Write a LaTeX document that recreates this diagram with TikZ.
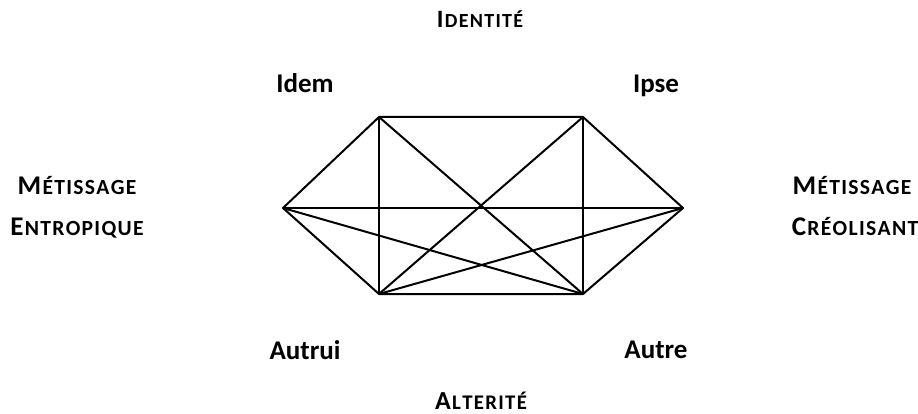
\documentclass[tikz,border=0pt]{standalone}
\usepackage{fontspec}
\setmainfont{Carlito}
\usetikzlibrary{positioning}
% petites capitales simulees (Carlito n'en a pas)
\newlength{\lettre}
\setlength{\lettre}{1.3pt}
\def\espaceloop#1{\ifx#1\relax\else#1\kern\lettre\expandafter\espaceloop\fi}
\newcommand{\espace}[1]{\espaceloop#1\relax\kern-\lettre}
\newcommand{\petcap}[3]{{\fontsize{#1}{#1}\selectfont#2}\kern\lettre{\fontsize{\fpeval{0.8*#1}}{#1}\selectfont\espace{#3}}}

\begin{document}
\begin{tikzpicture}[x=1pt, y=-1pt, line width=2pt, line join=round,
  pole/.style={font=\bfseries\fontsize{27}{32}\selectfont, anchor=base, inner sep=0pt},
  axe/.style={font=\bfseries, anchor=base, inner sep=0pt}]
\useasboundingbox (0,0) rectangle (918,414);
% sommets de l'hexagone
\coordinate (tl) at (379,117);
\coordinate (tr) at (583,117);
\coordinate (ri) at (683,208);
\coordinate (br) at (583,294);
\coordinate (bl) at (379,294);
\coordinate (le) at (283,208);
% contour
\draw (tl) -- (tr) -- (ri) -- (br) -- (bl) -- (le) -- cycle;
% cordes
\draw (tl) -- (bl);
\draw (tr) -- (br);
\draw (le) -- (ri);
\draw (tl) -- (br);
\draw (tr) -- (bl);
\draw (le) -- (br);
\draw (ri) -- (bl);
% poles
\node[pole] (idem) at (305,93) {Idem};
\node[pole] (ipse) at (656,93) {Ipse};
\node[pole] (autrui) at (305,359) {Autrui};
\node[pole] (autre) at (656,358) {Autre};
% axes
\node[axe] (identite) at (480,28) {\petcap{25}{I}{DENTITÉ}};
\node[axe] (alterite) at (481,409) {\petcap{26}{A}{LTERITÉ}};
\node[axe] (metg) at (77,195) {\petcap{27}{M}{ÉTISSAGE}};
\node[axe] (entrop) at (77,235) {\petcap{27}{E}{NTROPIQUE}};
\node[axe] (metd) at (852,195) {\petcap{27}{M}{ÉTISSAGE}};
\node[axe] (creol) at (855,235) {\petcap{27}{C}{RÉOLISANT}};
\end{tikzpicture}
\end{document}
